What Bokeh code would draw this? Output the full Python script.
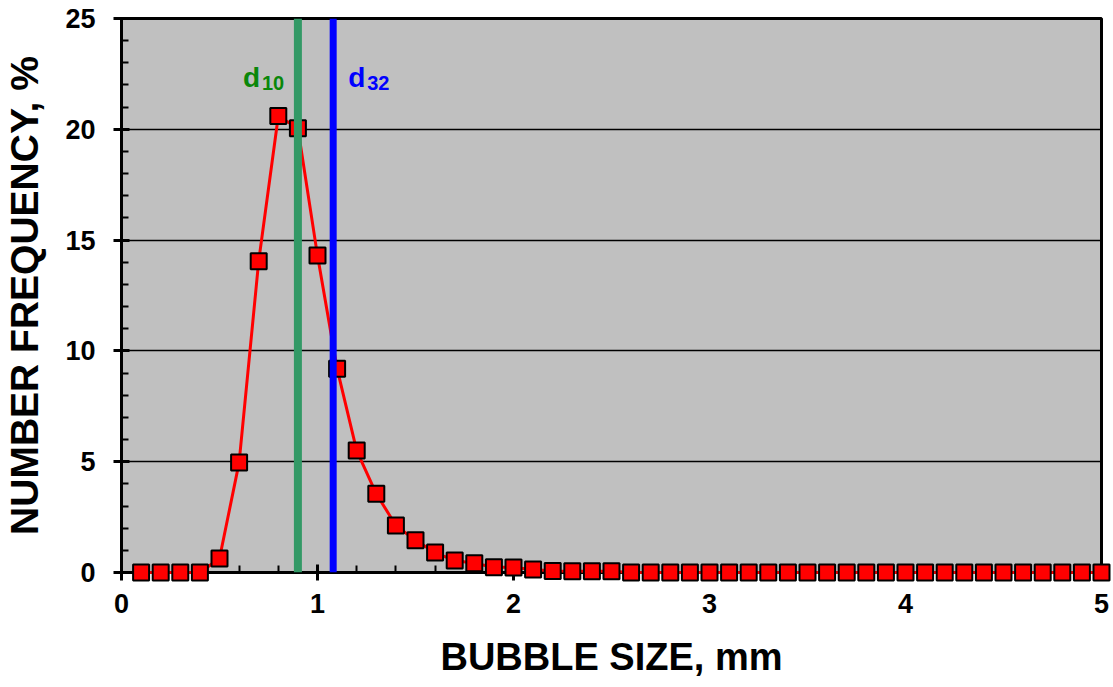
from bokeh.plotting import figure
from bokeh.models import Range1d, Label, Span, SingleIntervalTicker, FixedTicker
from bokeh.embed import file_html
from bokeh.resources import INLINE

# bubble size classes (mm)
bubble_size = [0.1, 0.2, 0.3, 0.4, 0.5, 0.6, 0.7, 0.8, 0.9, 1.0,
               1.1, 1.2, 1.3, 1.4, 1.5, 1.6, 1.7, 1.8, 1.9, 2.0,
               2.1, 2.2, 2.3, 2.4, 2.5, 2.6, 2.7, 2.8, 2.9, 3.0,
               3.1, 3.2, 3.3, 3.4, 3.5, 3.6, 3.7, 3.8, 3.9, 4.0,
               4.1, 4.2, 4.3, 4.4, 4.5, 4.6, 4.7, 4.8, 4.9, 5.0]
# number frequency (%)
number_freq = [0.0, 0.0, 0.0, 0.0, 0.63, 4.96, 14.05, 20.6, 20.05, 14.3,
               9.2, 5.5, 3.55, 2.12, 1.45, 0.9, 0.54, 0.42, 0.24, 0.23,
               0.14, 0.07, 0.06, 0.06, 0.06, 0.0, 0.0, 0.0, 0.0, 0.0,
               0.0, 0.0, 0.0, 0.0, 0.0, 0.0, 0.0, 0.0, 0.0, 0.0,
               0.0, 0.0, 0.0, 0.0, 0.0, 0.0, 0.0, 0.0, 0.0, 0.0]
d10 = 0.90
d32 = 1.08
y_ticks = [0, 5, 10, 15, 20, 25]

FONT = "Liberation Sans"

p = figure(width=1113, height=687, output_backend="svg", toolbar_location=None,
           x_range=Range1d(0, 5), y_range=Range1d(0, 25),
           min_border_left=120, min_border_right=12, min_border_top=18,
           min_border_bottom=115)
p.background_fill_color = "#C0C0C0"
p.border_fill_color = "white"
p.outline_line_color = "black"
p.outline_line_width = 3

p.xgrid.visible = False
p.ygrid.ticker = FixedTicker(ticks=y_ticks)
p.ygrid.grid_line_color = "black"
p.ygrid.grid_line_width = 1.5

for ax in (p.xaxis[0], p.yaxis[0]):
    ax.axis_line_width = 3
    ax.axis_line_color = "black"
    ax.major_tick_line_width = 3
    ax.minor_tick_line_width = 2
    ax.major_tick_in = 8
    ax.major_tick_out = 8
    ax.minor_tick_in = 7
    ax.minor_tick_out = 0
    ax.major_label_text_font = FONT
    ax.major_label_text_font_style = "bold"
    ax.major_label_text_font_size = "27px"
    ax.major_label_text_color = "black"
    ax.axis_label_text_font = FONT
    ax.axis_label_text_font_style = "bold"
    ax.axis_label_text_color = "black"

p.xaxis.ticker = SingleIntervalTicker(interval=1, num_minor_ticks=5)
p.yaxis.ticker = SingleIntervalTicker(interval=5, num_minor_ticks=5)
p.xaxis.axis_label = "BUBBLE SIZE, mm"
p.yaxis.axis_label = "NUMBER FREQUENCY, %"
p.xaxis.axis_label_text_font_size = "38px"
p.yaxis.axis_label_text_font_size = "39px"
p.xaxis.major_label_standoff = 13
p.yaxis.major_label_standoff = 18
p.xaxis.axis_label_standoff = 20
p.yaxis.axis_label_standoff = 16

p.line(bubble_size, number_freq, line_color="red", line_width=3, level="overlay")
p.scatter(bubble_size, number_freq, marker="square", size=16,
          fill_color="red", line_color="black", line_width=2, level="overlay")

# d10 / d32 vertical lines
p.add_layout(Span(location=d10, dimension="height", line_color="#339966",
                  line_width=8, level="overlay"))
p.add_layout(Span(location=d32, dimension="height", line_color="#0000FF",
                  line_width=7, level="overlay"))

# labels
lab_y = 22.35
p.add_layout(Label(x=d10, y=lab_y, x_offset=-55, text="d", text_font=FONT,
                   text_font_style="bold", text_font_size="28px", text_color="#0A870A",
                   text_baseline="alphabetic", text_align="left"))
p.add_layout(Label(x=d10, y=lab_y, x_offset=-36, y_offset=-6, text="10", text_font=FONT,
                   text_font_style="bold", text_font_size="20px", text_color="#0A870A",
                   text_baseline="alphabetic", text_align="left"))
p.add_layout(Label(x=d32, y=lab_y, x_offset=15, text="d", text_font=FONT,
                   text_font_style="bold", text_font_size="28px", text_color="#0000FF",
                   text_baseline="alphabetic", text_align="left"))
p.add_layout(Label(x=d32, y=lab_y, x_offset=34, y_offset=-6, text="32", text_font=FONT,
                   text_font_style="bold", text_font_size="20px", text_color="#0000FF",
                   text_baseline="alphabetic", text_align="left"))

open("out.html", "w").write(file_html(p, INLINE))
